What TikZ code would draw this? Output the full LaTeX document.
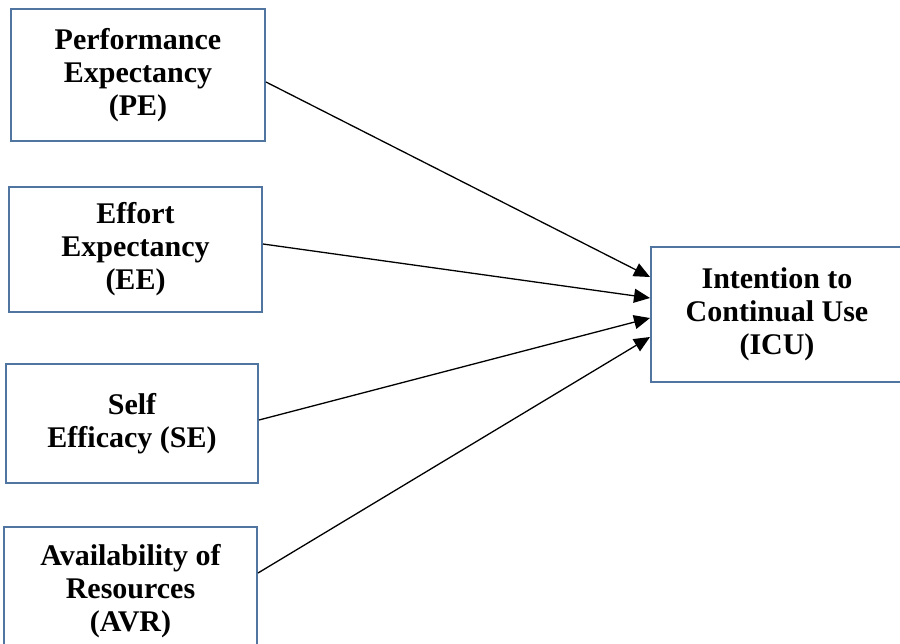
\documentclass[tikz,border=0pt]{standalone}
\usepackage{fontspec}
\setmainfont{Liberation Serif}
\usetikzlibrary{arrows.meta}
\definecolor{boxblue}{RGB}{79,117,160}
\begin{document}
\begin{tikzpicture}[x=1pt,y=-1pt,
  box/.style={draw=boxblue,line width=2pt,fill=white,inner sep=0pt,align=center,
    font=\fontsize{30}{33}\selectfont\bfseries},
  link/.style={line width=1.3pt,-{Triangle[length=16pt,width=14pt]}}]
\useasboundingbox (0,0) rectangle (900,643);
\clip (0,0) rectangle (900,643);
\fill[white] (0,0) rectangle (900,643);
\node[box,minimum width=254pt,minimum height=132pt] (pe) at (138,75) {Performance\\Expectancy\\(PE)};
\node[box,minimum width=253pt,minimum height=125pt] (ee) at (135.5,249.5) {Effort\\Expectancy\\(EE)};
\node[box,minimum width=252pt,minimum height=119pt] (se) at (132,423.5) {Self\\Efficacy (SE)};
\node[box,minimum width=253pt,minimum height=128pt] (avr) at (130.5,591) {Availability of\\Resources\\(AVR)};
\node[box,minimum width=252pt,minimum height=135pt] (icu) at (777,314.5) {Intention to\\Continual Use\\(ICU)};
\draw[link] ([yshift=-7pt]pe.east) -- ([yshift=37.5pt]icu.west);
\draw[link] ([yshift=5.5pt]ee.east) -- ([yshift=16.5pt]icu.west);
\draw[link] ([yshift=3.5pt]se.east) -- ([yshift=-3.5pt]icu.west);
\draw[link] ([yshift=18pt]avr.east) -- ([yshift=-22.5pt]icu.west);
\end{tikzpicture}
\end{document}
